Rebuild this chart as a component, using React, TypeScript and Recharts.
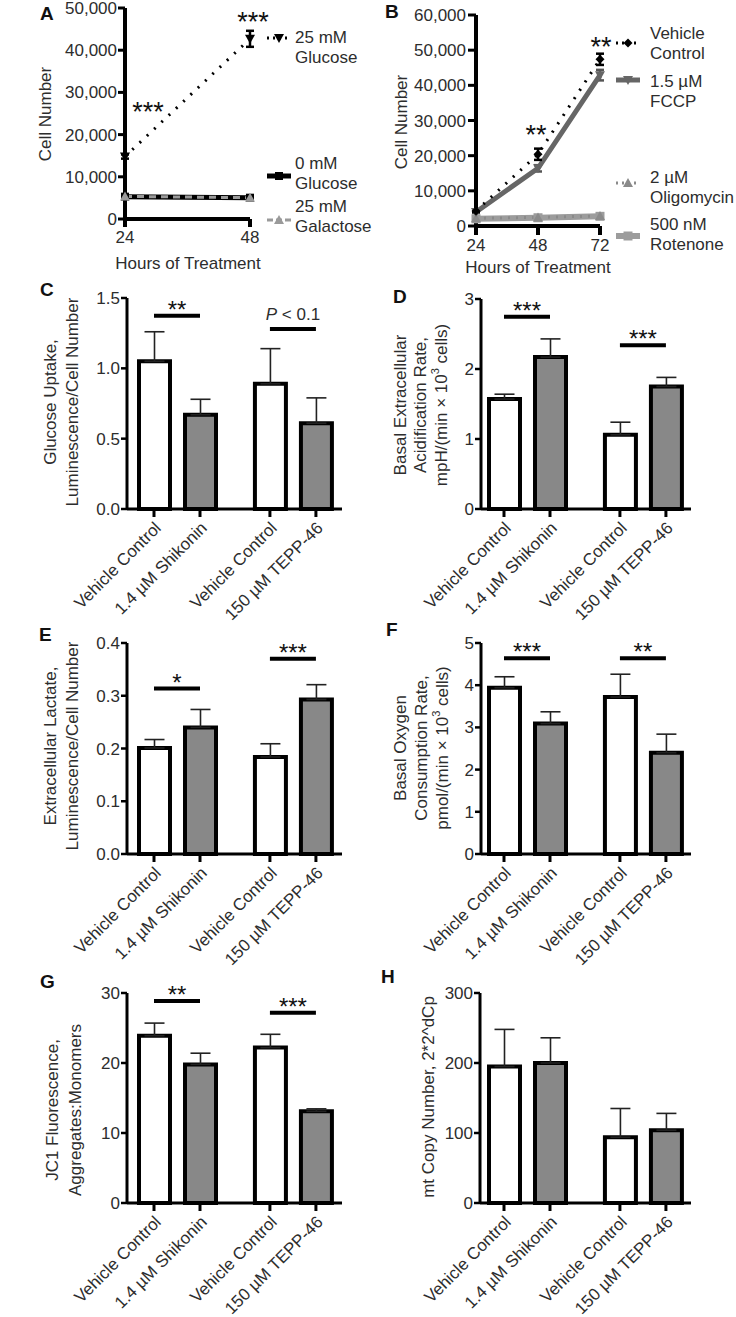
import React from 'react';
import {
  BarChart, Bar, Cell, XAxis, YAxis, ErrorBar, ReferenceLine, ReferenceDot,
  LineChart, Line, Legend,
} from 'recharts';

const FONT = '"Liberation Sans", Arial, Helvetica, sans-serif';
const INK = '#2d2d2d';
const GREY_BAR = '#888888';

// ---- A: cell number in glucose / galactose media
const hoursA = [24, 48];
const glucose25A = [14800, 42700];
const glucose25ErrA = [500, 1900];
const glucose0A = [5300, 5050];
const glucose0ErrA = [250, 250];
const galactose25A = [5350, 5050];
const galactose25ErrA = [250, 250];
const yTicksA = [0, 10000, 20000, 30000, 40000, 50000];
const legendNamesA = [['25 mM', 'Glucose'], ['0 mM', 'Glucose'], ['25 mM', 'Galactose']];

// ---- B: cell number with mitochondrial inhibitors
const hoursB = [24, 48, 72];
const vehicleB = [4300, 20400, 47400];
const vehicleErrB = [300, 1600, 1600];
const fccpB = [4000, 16400, 42900];
const fccpErrB = [300, 900, 1500];
const oligomycinB = [2200, 2450, 2850];
const oligomycinErrB = [200, 300, 300];
const rotenoneB = [2050, 2350, 2750];
const rotenoneErrB = [200, 300, 300];
const yTicksB = [0, 10000, 20000, 30000, 40000, 50000, 60000];
const legendNamesB = [['Vehicle', 'Control'], ['1.5 µM', 'FCCP'], ['2 µM', 'Oligomycin'], ['500 nM', 'Rotenone']];

// ---- C-H: bar panels, same four groups
const barCategories = ['Vehicle Control', '1.4 µM Shikonin', 'Vehicle Control', '150 µM TEPP-46'];
const barPositions = [0, 1, 2.52, 3.52];

const glucoseUptake = [1.05, 0.67, 0.89, 0.61];
const glucoseUptakeErr = [0.21, 0.11, 0.25, 0.18];
const ecar = [1.57, 2.17, 1.06, 1.75];
const ecarErr = [0.07, 0.26, 0.18, 0.13];
const lactate = [0.201, 0.240, 0.184, 0.293];
const lactateErr = [0.016, 0.034, 0.025, 0.028];
const ocr = [3.94, 3.09, 3.72, 2.40];
const ocrErr = [0.26, 0.28, 0.54, 0.44];
const jc1 = [23.9, 19.8, 22.2, 13.1];
const jc1Err = [1.8, 1.6, 1.9, 0.35];
const mtCopy = [195, 200, 94, 104];
const mtCopyErr = [53, 36, 41, 24];

const sigC = [{ from: 0, to: 1, y: 1.374, text: '**' }, { from: 2.52, to: 3.52, y: 1.28, text: 'P < 0.1' }];
const sigD = [{ from: 0, to: 1, y: 2.748, text: '***' }, { from: 2.52, to: 3.52, y: 2.339, text: '***' }];
const sigE = [{ from: 0, to: 1, y: 0.3136, text: '*' }, { from: 2.52, to: 3.52, y: 0.370, text: '***' }];
const sigF = [{ from: 0, to: 1, y: 4.64, text: '***' }, { from: 2.52, to: 3.52, y: 4.64, text: '**' }];
const sigG = [{ from: 0, to: 1, y: 28.86, text: '**' }, { from: 2.52, to: 3.52, y: 27.19, text: '***' }];

type Shape = 'triangleDown' | 'triangle' | 'square' | 'diamond';

function markerPath(shape: Shape, cx: number, cy: number, s: number) {
  if (shape === 'triangleDown') return `M${cx - s},${cy - s * 0.8}L${cx + s},${cy - s * 0.8}L${cx},${cy + s}Z`;
  if (shape === 'triangle') return `M${cx - s},${cy + s * 0.8}L${cx + s},${cy + s * 0.8}L${cx},${cy - s}Z`;
  if (shape === 'diamond') return `M${cx},${cy - s}L${cx + s},${cy}L${cx},${cy + s}L${cx - s},${cy}Z`;
  return `M${cx - s},${cy - s}h${2 * s}v${2 * s}h${-2 * s}Z`;
}

const makeDot = (shape: Shape, color: string, size: number) => (p: any) => (
  <path key={`dot-${p.index}`} d={markerPath(shape, p.cx, p.cy, size)} fill={color} />
);

const Letter = ({ ch, left, top }: { ch: string; left: number; top: number }) => (
  <div style={{ position: 'absolute', left, top, fontSize: 19, lineHeight: 1, fontWeight: 'bold', color: '#111' }}>{ch}</div>
);

// recharts passes its own x/y to label elements, so these use px/py
const AxisTitle = ({ lines, px, py, gap }: any) => (
  <g>
    {lines.map((l: React.ReactNode, i: number) => (
      <text key={i} x={px + i * gap} y={py} transform={`rotate(-90 ${px + i * gap} ${py})`}
        textAnchor="middle" dominantBaseline="central" fontSize={17} fill={INK}>{l}</text>
    ))}
  </g>
);

const BottomTitle = ({ text, px, py }: any) => (
  <text x={px} y={py} textAnchor="middle" fontSize={17} fill={INK}>{text}</text>
);

const LegendBlock = ({ entries, markerLeft, textLeft }: any) => (
  <div style={{ position: 'relative', width: 130, height: 270, fontFamily: FONT, fontSize: 17, color: INK }}>
    {entries.map((e: any, i: number) => (
      <React.Fragment key={i}>
        <svg style={{ position: 'absolute', left: markerLeft, top: e.markerY - 8 }} width={26} height={16}>
          <line x1={1} y1={8} x2={25} y2={8} stroke={e.color} strokeWidth={e.width} strokeDasharray={e.dash} />
          <path d={markerPath(e.shape, 13, 8, e.size)} fill={e.color} />
        </svg>
        <div style={{ position: 'absolute', left: textLeft, top: e.textTop, lineHeight: '20px', whiteSpace: 'nowrap' }}>
          {e.lines.map((l: string) => <div key={l}>{l}</div>)}
        </div>
      </React.Fragment>
    ))}
  </div>
);

const Stars = ({ cx, cy, text, size }: any) => (
  <text x={cx} y={cy + 14} textAnchor="middle" fontSize={size} fill="#111">{text}</text>
);

const axisStroke = { stroke: '#000', strokeWidth: 4 };

function PanelA() {
  const data = hoursA.map((h, i) => ({
    h,
    g25: glucose25A[i], g25Err: glucose25ErrA[i],
    g0: glucose0A[i], g0Err: glucose0ErrA[i],
    gal: galactose25A[i], galErr: galactose25ErrA[i],
  }));
  const legend = [
    { lines: legendNamesA[0], color: '#000', width: 3, dash: '2 4', shape: 'triangleDown', size: 5, textTop: 28, markerY: 38 },
    { lines: legendNamesA[1], color: '#000', width: 5, shape: 'square', size: 4, textTop: 154, markerY: 176 },
    { lines: legendNamesA[2], color: '#9a9a9a', width: 3, dash: '6 3', shape: 'triangle', size: 5, textTop: 197, markerY: 220 },
  ];
  return (
    <div style={{ position: 'absolute', left: 0, top: 0 }}>
      <LineChart width={368} height={280} data={data} margin={{ top: 8, right: 118, bottom: 0, left: 0 }}>
        <XAxis dataKey="h" type="number" domain={[24, 48]} ticks={hoursA} height={61}
          axisLine={axisStroke} tickLine={{ stroke: '#000', strokeWidth: 4 }} tickSize={8} tickMargin={4}
          tick={{ fill: INK, fontSize: 17 }}
          label={<BottomTitle text="Hours of Treatment" px={188} py={269} />} />
        <YAxis type="number" domain={[0, 50000]} ticks={yTicksA} width={125} interval={0}
          axisLine={axisStroke} tickLine={{ stroke: '#000', strokeWidth: 3 }} tickSize={7} tickMargin={1}
          tick={{ fill: INK, fontSize: 17 }} tickFormatter={(v: number) => v.toLocaleString('en-US')}
          label={<AxisTitle lines={['Cell Number']} px={45} py={114} gap={0} />} />
        <Line dataKey="g0" stroke="#000" strokeWidth={5} isAnimationActive={false} dot={makeDot('square', '#000', 4)}>
          <ErrorBar dataKey="g0Err" width={4} stroke="#000" strokeWidth={2} direction="y" />
        </Line>
        <Line dataKey="gal" stroke="#9a9a9a" strokeWidth={3} strokeDasharray="7 5" isAnimationActive={false}
          dot={makeDot('triangle', '#9a9a9a', 5)} />
        <Line dataKey="g25" stroke="#000" strokeWidth={3} strokeDasharray="2 8" isAnimationActive={false}
          dot={makeDot('triangleDown', '#000', 5)}>
          <ErrorBar dataKey="g25Err" width={4} stroke="#000" strokeWidth={2.5} direction="y" />
        </Line>
        <ReferenceDot x={28.4} y={26500} r={0} ifOverflow="visible" shape={(p: any) => <Stars {...p} text="***" size={27} />} />
        <ReferenceDot x={48.6} y={47900} r={0} ifOverflow="visible" shape={(p: any) => <Stars {...p} text="***" size={27} />} />
        <Legend layout="horizontal" verticalAlign="middle" align="center"
          wrapperStyle={{ left: 260, top: 0, width: 130, height: 270 }}
          content={() => <LegendBlock entries={legend} markerLeft={6} textLeft={35} />} />
      </LineChart>
    </div>
  );
}

function PanelB() {
  const data = hoursB.map((h, i) => ({
    h,
    veh: vehicleB[i], vehErr: vehicleErrB[i],
    fccp: fccpB[i], fccpErr: fccpErrB[i],
    oli: oligomycinB[i], oliErr: oligomycinErrB[i],
    rot: rotenoneB[i], rotErr: rotenoneErrB[i],
  }));
  const legend = [
    { lines: legendNamesB[0], color: '#000', width: 3, dash: '2 4', shape: 'diamond', size: 4.5, textTop: 24, markerY: 43 },
    { lines: legendNamesB[1], color: '#666', width: 5, shape: 'triangleDown', size: 5, textTop: 72, markerY: 80 },
    { lines: legendNamesB[2], color: '#8a8a8a', width: 3, dash: '2 4', shape: 'triangle', size: 5, textTop: 168, markerY: 183 },
    { lines: legendNamesB[3], color: '#9c9c9c', width: 6, shape: 'square', size: 4.5, textTop: 215, markerY: 236 },
  ];
  return (
    <div style={{ position: 'absolute', left: 368, top: 0 }}>
      <LineChart width={368} height={280} data={data} margin={{ top: 15, right: 136, bottom: 0, left: 0 }}>
        <XAxis dataKey="h" type="number" domain={[24, 72]} ticks={hoursB} height={54}
          axisLine={axisStroke} tickLine={{ stroke: '#000', strokeWidth: 4 }} tickSize={9} tickMargin={4}
          tick={{ fill: INK, fontSize: 17 }}
          label={<BottomTitle text="Hours of Treatment" px={170} py={273} />} />
        <YAxis type="number" domain={[0, 60000]} ticks={yTicksB} width={108} interval={0}
          axisLine={axisStroke} tickLine={{ stroke: '#000', strokeWidth: 3 }} tickSize={8} tickMargin={2}
          tick={{ fill: INK, fontSize: 17 }} tickFormatter={(v: number) => v.toLocaleString('en-US')}
          label={<AxisTitle lines={['Cell Number']} px={33} py={122} gap={0} />} />
        <Line dataKey="rot" stroke="#9c9c9c" strokeWidth={6} isAnimationActive={false} dot={makeDot('square', '#9c9c9c', 4.5)} />
        <Line dataKey="oli" stroke="#8a8a8a" strokeWidth={3} strokeDasharray="2 6" isAnimationActive={false}
          dot={makeDot('triangle', '#8a8a8a', 5)} />
        <Line dataKey="fccp" stroke="#666" strokeWidth={5} isAnimationActive={false} dot={makeDot('triangleDown', '#666', 5)}>
          <ErrorBar dataKey="fccpErr" width={4} stroke="#555" strokeWidth={2.5} direction="y" />
        </Line>
        <Line dataKey="veh" stroke="#000" strokeWidth={3} strokeDasharray="2 8" isAnimationActive={false}
          dot={makeDot('diamond', '#000', 4.5)}>
          <ErrorBar dataKey="vehErr" width={4} stroke="#000" strokeWidth={2.5} direction="y" />
        </Line>
        <ReferenceDot x={47.2} y={27300} r={0} ifOverflow="visible" shape={(p: any) => <Stars {...p} text="**" size={27} />} />
        <ReferenceDot x={72.4} y={52300} r={0} ifOverflow="visible" shape={(p: any) => <Stars {...p} text="**" size={27} />} />
        <Legend layout="horizontal" verticalAlign="middle" align="center"
          wrapperStyle={{ left: 240, top: 0, width: 130, height: 270 }}
          content={() => <LegendBlock entries={legend} markerLeft={7} textLeft={42} />} />
      </LineChart>
    </div>
  );
}

interface Sig { from: number; to: number; y: number; text: string }

interface BarPanelProps {
  x0: number; plotLeft: number; firstCenter: number; plotRight: number; plotTop: number; plotBottom: number;
  values: number[]; errors: number[]; yTicks: number[]; decimals: number;
  title: React.ReactNode[]; titleX: number; titleGap: number; titleCy: number; sig: Sig[];
}

function BarPanel(props: BarPanelProps) {
  const { x0, plotLeft, firstCenter, plotRight, plotTop, plotBottom, values, errors, yTicks, decimals, title, titleX, titleGap, titleCy, sig } = props;
  const unit = 46;
  const lo = -(firstCenter - plotLeft) / unit;
  const hi = lo + (plotRight - plotLeft) / unit;
  const chartTop = plotTop - 20;
  const height = plotBottom - plotTop + 20 + 115;
  const data = barPositions.map((pos, i) => ({ pos, name: barCategories[i], value: values[i], err: [0, errors[i]] }));

  const CategoryTick = (p: any) => (
    <g transform={`translate(${p.x + 8},${p.y + 10})`}>
      <text textAnchor="end" transform="rotate(-45)" fontSize={17} fill={INK}>{barCategories[p.index]}</text>
    </g>
  );

  return (
    <div style={{ position: 'absolute', left: x0, top: chartTop }}>
      <BarChart width={368} height={height} data={data}
        margin={{ top: 20, right: x0 + 368 - plotRight, bottom: 0, left: 0 }}>
        <XAxis dataKey="pos" type="number" domain={[lo, hi]} ticks={barPositions} interval={0} height={115}
          allowDataOverflow axisLine={{ stroke: '#000', strokeWidth: 3 }} tickLine={{ stroke: '#000', strokeWidth: 3 }}
          tickSize={8} tickMargin={2} tick={CategoryTick} />
        <YAxis type="number" domain={[0, yTicks[yTicks.length - 1]]} ticks={yTicks} interval={0} width={plotLeft - x0}
          axisLine={{ stroke: '#000', strokeWidth: 3 }} tickLine={{ stroke: '#000', strokeWidth: 2.5 }}
          tickSize={6} tickMargin={1} tick={{ fill: INK, fontSize: 17 }}
          tickFormatter={(v: number) => v.toFixed(decimals)}
          label={<AxisTitle lines={title} px={titleX - x0} py={titleCy - chartTop} gap={titleGap} />} />
        <Bar dataKey="value" barSize={31} stroke="#000" strokeWidth={4} isAnimationActive={false}>
          {data.map((d, i) => <Cell key={i} fill={i % 2 === 0 ? '#ffffff' : GREY_BAR} />)}
          <ErrorBar dataKey="err" width={10} stroke="#222" strokeWidth={1.6} direction="y" />
        </Bar>
        {sig.map((s, i) => (
          <ReferenceLine key={`l${i}`} segment={[{ x: s.from, y: s.y }, { x: s.to, y: s.y }]}
            stroke="#000" strokeWidth={4} ifOverflow="visible" />
        ))}
        {sig.map((s, i) => (
          <ReferenceDot key={`t${i}`} x={(s.from + s.to) / 2} y={s.y} r={0} ifOverflow="visible"
            shape={(p: any) => s.text.startsWith('P')
              ? <text x={p.cx} y={p.cy - 9} textAnchor="middle" fontSize={17} fill={INK}>
                  <tspan fontStyle="italic">P</tspan> &lt; 0.1</text>
              : <text x={p.cx} y={p.cy + 2} textAnchor="middle" fontSize={24} fill="#111">{s.text}</text>} />
        ))}
      </BarChart>
    </div>
  );
}

const cellUnit = (label: string) => (
  <>{label}<tspan baselineShift="super" fontSize={11}>3</tspan> cells)</>
);

export default function App() {
  return (
    <div style={{ position: 'absolute', left: 0, top: 0, width: 736, height: 1317, background: '#fff', fontFamily: FONT, overflow: 'hidden' }}>
      <PanelA />
      <PanelB />
      <BarPanel x0={0} plotLeft={127} firstCenter={154} plotRight={342} plotTop={298} plotBottom={509}
        values={glucoseUptake} errors={glucoseUptakeErr} yTicks={[0, 0.5, 1, 1.5]} decimals={1}
        title={['Glucose Uptake,', 'Luminescence/Cell Number']} titleX={50} titleGap={22} titleCy={402} sig={sigC} />
      <BarPanel x0={368} plotLeft={481} firstCenter={504} plotRight={691} plotTop={299} plotBottom={509}
        values={ecar} errors={ecarErr} yTicks={[0, 1, 2, 3]} decimals={0}
        title={['Basal Extracellular', 'Acidification Rate,', cellUnit('mpH/(min × 10')]} titleX={400} titleGap={20.5} titleCy={405} sig={sigD} />
      <BarPanel x0={0} plotLeft={127} firstCenter={154} plotRight={342} plotTop={643} plotBottom={854}
        values={lactate} errors={lactateErr} yTicks={[0, 0.1, 0.2, 0.3, 0.4]} decimals={1}
        title={['Extracellular Lactate,', 'Luminescence/Cell Number']} titleX={50} titleGap={22} titleCy={746} sig={sigE} />
      <BarPanel x0={368} plotLeft={481} firstCenter={504} plotRight={691} plotTop={643} plotBottom={854}
        values={ocr} errors={ocrErr} yTicks={[0, 1, 2, 3, 4, 5]} decimals={0}
        title={['Basal Oxygen', 'Consumption Rate,', cellUnit('pmol/(min × 10')]} titleX={400} titleGap={21} titleCy={748} sig={sigF} />
      <BarPanel x0={0} plotLeft={127} firstCenter={154} plotRight={342} plotTop={993} plotBottom={1203}
        values={jc1} errors={jc1Err} yTicks={[0, 10, 20, 30]} decimals={0}
        title={['JC1 Fluorescence,', 'Aggregates:Monomers']} titleX={52} titleGap={23} titleCy={1110} sig={sigG} />
      <BarPanel x0={368} plotLeft={480} firstCenter={504} plotRight={691} plotTop={993} plotBottom={1203}
        values={mtCopy} errors={mtCopyErr} yTicks={[0, 100, 200, 300]} decimals={0}
        title={['mt Copy Number, 2*2^dCp']} titleX={428} titleGap={0} titleCy={1097} sig={[]} />
      <Letter ch="A" left={40} top={4} />
      <Letter ch="B" left={385} top={2} />
      <Letter ch="C" left={40} top={280} />
      <Letter ch="D" left={393} top={287} />
      <Letter ch="E" left={39} top={625} />
      <Letter ch="F" left={386} top={620} />
      <Letter ch="G" left={40} top={972} />
      <Letter ch="H" left={381} top={967} />
    </div>
  );
}
